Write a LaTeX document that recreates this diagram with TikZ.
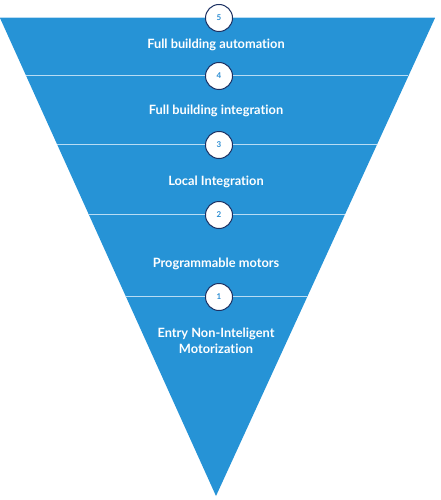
\documentclass[tikz,border=0pt]{standalone}
\usepackage{fontspec}
\setmainfont[Ligatures={NoCommon,NoRare}]{Lato}
\usetikzlibrary{calc}
\definecolor{tri}{HTML}{2693D6}
\definecolor{sep}{HTML}{B8DCF4}
\definecolor{ring}{HTML}{1C3163}
\definecolor{num}{HTML}{2A8CD2}
\begin{document}
\begin{tikzpicture}[x=1pt,y=-1pt,
  lvl/.style={text=white,font=\fontsize{12.8}{16}\selectfont\bfseries,align=center},
  badge/.style={circle,draw=ring,line width=1pt,fill=white,minimum size=27pt,inner sep=0pt,text=num,font=\fontsize{8}{9}\selectfont\bfseries}]
\useasboundingbox (0,0) rectangle (440,500);
\coordinate (tl) at (0,18);
\coordinate (tr) at (435,18);
\coordinate (ap) at (216,496);
\fill[tri] (tl) -- (tr) -- (ap) -- cycle;
\draw[sep,line width=1pt] (tl) -- (tr);
\foreach \y/\n in {76/a,145/b,215/c,296/d}{
  \draw[sep,line width=1pt] ($(tl)!{(\y-18)/478}!(ap)$) -- ($(tr)!{(\y-18)/478}!(ap)$);
}
\node[badge] (b5) at (219,18) {5};
\node[badge] (b4) at (219,76) {4};
\node[badge] (b3) at (219,145) {3};
\node[badge] (b2) at (219,215) {2};
\node[badge] (b1) at (219,297) {1};
\node[lvl] (t5) at (216,45) {Full building automation};
\node[lvl] (t4) at (216,111) {Full building integration};
\node[lvl] (t3) at (216,182) {Local Integration};
\node[lvl] (t2) at (216,264) {Programmable motors};
\node[lvl] (t1) at (216,341) {Entry Non-Inteligent\\Motorization};
\end{tikzpicture}
\end{document}
